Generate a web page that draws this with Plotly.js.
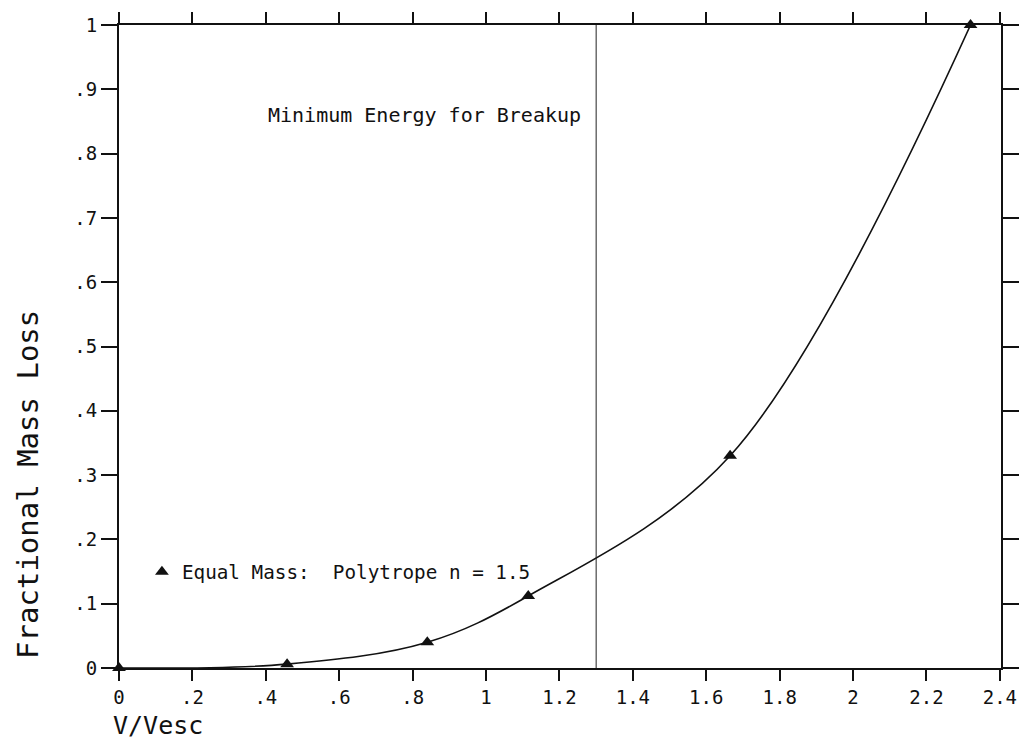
<!DOCTYPE html>
<html>
<head>
<meta charset="utf-8">
<script src="https://cdn.plot.ly/plotly-3.0.1.min.js"></script>
<style>
  html, body { margin: 0; padding: 0; background: #fff; }
  #chart { width: 1019px; height: 740px; }
</style>
</head>
<body>
<div id="chart"></div>
<script>
// Fractional mass loss versus impact velocity (in units of escape velocity)
const velocity = [0, 0.458, 0.84, 1.115, 1.665, 2.32];
const massLoss = [0, 0.006, 0.04, 0.112, 0.33, 1.0];

// Velocity of the minimum energy needed for breakup
const breakupVelocity = 1.3;

const xTickVals = [0, 0.2, 0.4, 0.6, 0.8, 1, 1.2, 1.4, 1.6, 1.8, 2, 2.2, 2.4];
const xTickText = ['0', '.2', '.4', '.6', '.8', '1', '1.2', '1.4', '1.6', '1.8', '2', '2.2', '2.4'];
const yTickVals = [0, 0.1, 0.2, 0.3, 0.4, 0.5, 0.6, 0.7, 0.8, 0.9, 1];
const yTickText = ['0', '.1', '.2', '.3', '.4', '.5', '.6', '.7', '.8', '.9', '1'];

const FONT = 'DejaVu Sans Mono, monospace';

const traces = [
  {
    x: velocity,
    y: massLoss,
    mode: 'lines',
    line: { shape: 'spline', smoothing: 1, color: '#111', width: 1.6 },
    showlegend: false,
    hoverinfo: 'skip'
  },
  {
    x: velocity,
    y: massLoss,
    mode: 'markers',
    name: 'Equal Mass:  Polytrope n = 1.5',
    marker: { symbol: 'triangle-up', size: 12, color: '#111' },
    cliponaxis: false
  }
];

const layout = {
  width: 1019,
  height: 740,
  paper_bgcolor: '#fff',
  plot_bgcolor: '#fff',
  margin: { l: 119, r: 18, t: 25, b: 72 },
  font: { family: FONT, color: '#111', size: 19 },
  xaxis: {
    range: [0, 2.403],
    tickvals: xTickVals,
    ticktext: xTickText,
    ticks: 'outside',
    ticklen: 11,
    tickwidth: 2,
    tickcolor: '#111',
    ticklabeloverflow: 'allow',
    showline: true,
    linecolor: '#111',
    linewidth: 2,
    mirror: 'ticks',
    showgrid: false,
    zeroline: false,
    tickfont: { family: FONT, size: 19, color: '#111' }
  },
  yaxis: {
    range: [0, 1],
    tickvals: yTickVals,
    ticktext: yTickText,
    ticks: 'outside',
    ticklen: 16,
    tickwidth: 2,
    tickcolor: '#111',
    showline: true,
    linecolor: '#111',
    linewidth: 2,
    mirror: 'ticks',
    showgrid: false,
    zeroline: false,
    tickfont: { family: FONT, size: 19, color: '#111' }
  },
  shapes: [
    {
      type: 'line', xref: 'x', yref: 'paper',
      x0: breakupVelocity, x1: breakupVelocity, y0: 0, y1: 1,
      line: { color: '#222', width: 1 }
    }
  ],
  annotations: [
    {
      text: 'Minimum Energy for Breakup',
      xref: 'x', yref: 'y', x: 1.265, y: 0.86,
      xanchor: 'right', yanchor: 'middle', showarrow: false,
      font: { family: FONT, size: 20, color: '#111' }
    },
    {
      text: 'V/Vesc',
      xref: 'paper', yref: 'paper', x: -0.009, y: -0.089,
      xanchor: 'left', yanchor: 'middle', showarrow: false,
      font: { family: FONT, size: 25, color: '#111' }
    },
    {
      text: 'Fractional Mass Loss',
      xref: 'paper', yref: 'paper', x: -0.103, y: 0.285,
      xanchor: 'center', yanchor: 'middle', showarrow: false, textangle: -90,
      font: { family: FONT, size: 29, color: '#111' }
    }
  ],
  legend: {
    x: 0.026, y: 0.149, xanchor: 'left', yanchor: 'middle',
    bgcolor: 'rgba(0,0,0,0)',
    font: { family: FONT, size: 19.3, color: '#111' }
  },
  showlegend: true
};

Plotly.newPlot('chart', traces, layout, { displayModeBar: false, staticPlot: true });
</script>
</body>
</html>
